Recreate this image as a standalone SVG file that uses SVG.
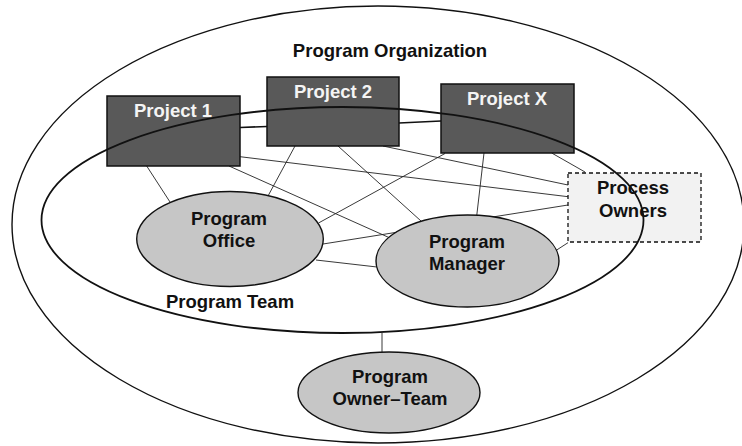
<svg xmlns="http://www.w3.org/2000/svg" width="742" height="446" viewBox="0 0 742 446">
  <style>
    .lbl { font-family: "Liberation Sans", Arial, sans-serif; font-weight: bold; font-size: 18.5px; text-anchor: middle; fill: #111; }
    .lbl-w { fill: #f4f4f4; }
    .proj { fill: #595959; stroke: #111; stroke-width: 1.5; }
    .role { fill: #c6c6c6; stroke: #111; stroke-width: 1.4; }
    .conn line { stroke: #222; stroke-width: 0.9; }
    .conn line.thick { stroke: #111; stroke-width: 1.6; }
  </style>

  <rect x="0" y="0" width="742" height="446" fill="#fff"/>

  <!-- Program organization boundary -->
  <g id="program-organization">
    <ellipse cx="378" cy="224.5" rx="366" ry="218.5" fill="none" stroke="#111" stroke-width="1.4"/>
    <text class="lbl" x="390" y="57">Program Organization</text>
  </g>

  <!-- Connectors -->
  <g id="connectors" class="conn">
    <line class="thick" x1="240" y1="127.5" x2="267" y2="126.5"/>
    <line class="thick" x1="399" y1="123" x2="441" y2="121"/>
    <line x1="146.7" y1="166" x2="170" y2="202"/>
    <line x1="229" y1="166" x2="390" y2="238"/>
    <line x1="240" y1="156.7" x2="568" y2="196.7"/>
    <line x1="295" y1="146" x2="268" y2="196"/>
    <line x1="338" y1="146" x2="421" y2="221"/>
    <line x1="383" y1="146" x2="568" y2="185"/>
    <line x1="445" y1="153.5" x2="318.5" y2="223"/>
    <line x1="484" y1="153" x2="476.7" y2="216"/>
    <line x1="551.7" y1="153" x2="585" y2="172"/>
    <line x1="323" y1="244" x2="568" y2="205"/>
    <line x1="316" y1="260" x2="377" y2="267"/>
    <line x1="556.7" y1="250" x2="568" y2="242.7"/>
    <line x1="382" y1="333" x2="382" y2="352"/>
  </g>

  <!-- Projects -->
  <g id="project-1">
    <rect class="proj" x="107" y="96" width="133" height="70"/>
    <text class="lbl lbl-w" x="173" y="117">Project 1</text>
  </g>
  <g id="project-2">
    <rect class="proj" x="267" y="77" width="132" height="69"/>
    <text class="lbl lbl-w" x="333" y="98">Project 2</text>
  </g>
  <g id="project-x">
    <rect class="proj" x="441" y="84" width="133" height="69"/>
    <text class="lbl lbl-w" x="507" y="105">Project X</text>
  </g>

  <!-- Process owners (dashed, outside core team) -->
  <g id="process-owners">
    <rect x="568" y="173" width="133" height="69" fill="#f2f2f2" stroke="#111" stroke-width="1.3" stroke-dasharray="4,3"/>
    <text class="lbl" x="633" y="194">Process</text>
    <text class="lbl" x="633" y="217">Owners</text>
  </g>

  <!-- Team roles -->
  <g id="program-office">
    <ellipse class="role" cx="230" cy="239" rx="93.3" ry="47.5"/>
    <text class="lbl" x="229" y="225">Program</text>
    <text class="lbl" x="229" y="247">Office</text>
  </g>
  <g id="program-manager">
    <ellipse class="role" cx="467.5" cy="261" rx="91.5" ry="46"/>
    <text class="lbl" x="467" y="248">Program</text>
    <text class="lbl" x="467" y="270">Manager</text>
  </g>
  <g id="program-owner-team">
    <ellipse class="role" cx="389" cy="392.5" rx="91" ry="40.5"/>
    <text class="lbl" x="390" y="383">Program</text>
    <text class="lbl" x="390" y="405">Owner–Team</text>
  </g>

  <!-- Program team boundary -->
  <g id="program-team">
    <ellipse cx="342.5" cy="220" rx="301" ry="113" fill="none" stroke="#111" stroke-width="1.8"/>
    <text class="lbl" x="230" y="308">Program Team</text>
  </g>
</svg>
